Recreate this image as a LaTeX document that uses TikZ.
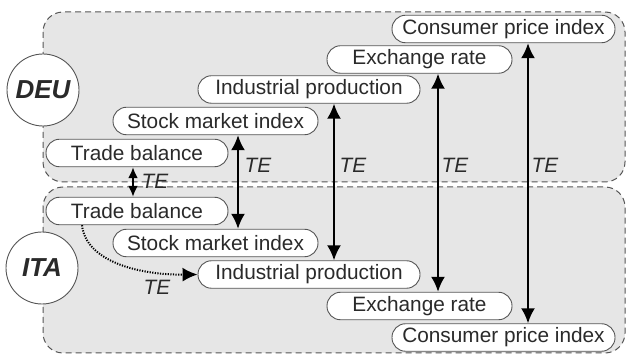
\documentclass[tikz,border=0pt]{standalone}
\usepackage{fontspec}
\setmainfont{Liberation Sans}
\usetikzlibrary{arrows.meta}
\definecolor{boxfill}{HTML}{E6E6E6}
\definecolor{edge}{HTML}{555555}
\definecolor{txt}{HTML}{2A2A2A}
\tikzset{
  country/.style={draw=edge, dashed, dash pattern=on 6pt off 4pt, line width=1pt, fill=boxfill, rounded corners=20pt},
  cnode/.style={circle, draw=edge, line width=0.9pt, fill=white, minimum size=72pt, inner sep=0pt, text=txt, font=\fontsize{26}{30}\selectfont\bfseries\itshape},
  var/.style={draw=edge, line width=0.9pt, fill=white, rounded corners=13.5pt, minimum height=27.5pt, inner sep=0pt, text=txt, font=\fontsize{20.8}{24}\selectfont},
  te/.style={{Latex[length=15pt,width=14pt]}-{Latex[length=15pt,width=14pt]}, line width=2pt},
  teshort/.style={{Latex[length=11pt,width=10pt]}-{Latex[length=11pt,width=10pt]}, line width=2pt},
  telab/.style={font=\fontsize{20.8}{24}\selectfont\itshape, text=txt, inner sep=0pt},
}
\begin{document}
\begin{tikzpicture}[x=1pt,y=-1pt]
\useasboundingbox (0,0) rectangle (627,355);
\path[country] (43,12) rectangle (625,182);
\path[country] (43,187) rectangle (625,353);
\node[cnode] (deu) at (43,90) {DEU};
\node[cnode] (ita) at (42,268) {ITA};
% DEU variables
\node[var, minimum width=223pt] (dcpi) at (503.5,29) {Consumer price index};
\node[var, minimum width=185pt] (der) at (419.5,59.5) {Exchange rate};
\node[var, minimum width=222pt] (dip) at (309,89.5) {Industrial production};
\node[var, minimum width=205pt] (dsmi) at (215.5,121) {Stock market index};
\node[var, minimum width=182pt] (dtb) at (137,153) {Trade balance};
% ITA variables
\node[var, minimum width=182pt] (itb) at (137,211) {Trade balance};
\node[var, minimum width=205pt] (ismi) at (215.5,243) {Stock market index};
\node[var, minimum width=222pt] (iip) at (309,274.5) {Industrial production};
\node[var, minimum width=185pt] (ier) at (419.5,306) {Exchange rate};
\node[var, minimum width=223pt] (icpi) at (503.5,337.5) {Consumer price index};
% arrow x positions
\coordinate (xa) at (133,0);
\coordinate (xb) at (238,0);
\coordinate (xc) at (334,0);
\coordinate (xd) at (438,0);
\coordinate (xe) at (528,0);
\coordinate (tbs) at (82,0);
\draw[teshort] (dtb.south -| xa) -- (itb.north -| xa);
\draw[te] (dsmi.south -| xb) -- (ismi.north -| xb);
\draw[te] (dip.south -| xc) -- (iip.north -| xc);
\draw[te] (der.south -| xd) -- (ier.north -| xd);
\draw[te] (dcpi.south -| xe) -- (icpi.north -| xe);
\node[telab] (l1) at (155,181) {TE};
\node[telab] (l2) at (258,165) {TE};
\node[telab] (l3) at (353,165) {TE};
\node[telab] (l4) at (455,165) {TE};
\node[telab] (l5) at (545,165) {TE};
% dotted curved arrow
\draw[line width=2pt, dash pattern=on 1.2pt off 1.4pt, -{Latex[length=15pt,width=14pt]}] (itb.south -| tbs) .. controls (86,262) and (140,275) .. (iip.west);
\node[telab] (l6) at (157,287) {TE};
\end{tikzpicture}
\end{document}
